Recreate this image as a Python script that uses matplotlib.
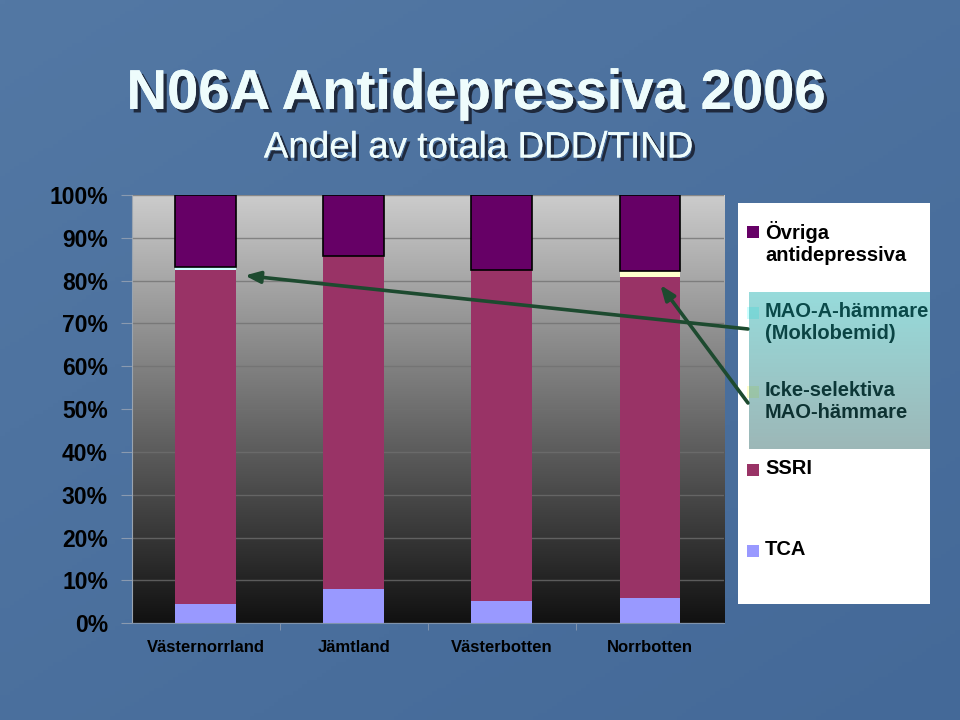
import numpy as np
import matplotlib
matplotlib.use("Agg")
import matplotlib.pyplot as plt
from matplotlib.colors import LinearSegmentedColormap
from matplotlib.patches import Rectangle, ConnectionPatch
import matplotlib.patheffects as pe

plt.rcParams["font.family"] = ["Liberation Sans", "DejaVu Sans"]

# ---------------- data ----------------
categories = ["Västernorrland", "Jämtland", "Västerbotten", "Norrbotten"]
series_names = ["TCA", "SSRI", "Icke-selektiva\nMAO-hämmare",
                "MAO-A-hämmare\n(Moklobemid)", "Övriga\nantidepressiva"]
tca = [4.6, 7.9, 5.1, 5.8]
ssri = [78.0, 77.9, 77.4, 75.0]
icke_selektiva = [0.0, 0.0, 0.0, 1.4]
mao_a = [0.5, 0.0, 0.0, 0.0]
ovriga = [16.9, 14.2, 17.5, 17.8]
series_values = [tca, ssri, icke_selektiva, mao_a, ovriga]
series_colors = ["#9999FF", "#993366", "#FFFFCC", "#CCFFFF", "#660066"]
series_edges = ["none", "none", "none", "none", "black"]
yticks = [0, 10, 20, 30, 40, 50, 60, 70, 80, 90, 100]
ytick_labels = [f"{v}%" for v in yticks]

W, H = 960, 720
fig = plt.figure(figsize=(W / 100, H / 100), dpi=100)

def fx(px):
    return px / W

def fy(py):
    return 1 - py / H

# ---------------- blue background ----------------
bg = fig.add_axes([0, 0, 1, 1], zorder=-10)
gy, gx = np.mgrid[0:1:200j, 0:1:200j]
t = 0.55 * gy + 0.45 * gx
c0 = np.array([0x53, 0x78, 0xA4]) / 255
c1 = np.array([0x44, 0x69, 0x98]) / 255
img = c0[None, None, :] * (1 - t[..., None]) + c1[None, None, :] * t[..., None]
bg.imshow(img, extent=[0, 1, 0, 1], aspect="auto", origin="upper")
bg.set_axis_off()

# ---------------- main axes ----------------
L, R, T, B = 131.5, 724, 195, 623.3
ax = fig.add_axes([fx(L), fy(B), fx(R - L), (B - T) / H], zorder=1)
x = np.arange(len(categories))
ax.set_xlim(-0.5, len(categories) - 0.5)
ax.set_ylim(0, 100)

grad_cmap = LinearSegmentedColormap.from_list("g", ["#111111", "#cccccc"])
ax.imshow(np.linspace(0, 1, 256)[:, None], cmap=grad_cmap, origin="lower",
          extent=[-0.5, len(categories) - 0.5, 0, 100], aspect="auto", zorder=0)

ax.set_yticks(yticks)
ax.set_yticklabels(ytick_labels)
ax.yaxis.grid(True, color="#707070", lw=1.0, alpha=0.75, zorder=0.5)
ax.set_axisbelow(True)

bottom = np.zeros(len(categories))
for vals, col, ec in zip(series_values, series_colors, series_edges):
    vals = np.array(vals)
    ax.bar(x, vals, width=0.41, bottom=bottom, color=col, edgecolor=ec,
           linewidth=1.2 if ec != "none" else 0, zorder=2)
    bottom += vals

ax.set_xticks(x)
ax.set_xticklabels(categories)
ax.set_xticks(np.arange(0.5, len(categories) - 0.5, 1), minor=True)
ax.tick_params(axis="x", which="major", length=0, pad=12, labelsize=12)
ax.tick_params(axis="x", which="minor", length=5, color="#8a9ab0")
ax.tick_params(axis="y", length=8, color="#8a9ab0", pad=9, labelsize=16.5)
for lab in ax.get_xticklabels() + ax.get_yticklabels():
    lab.set_fontweight("bold")
    lab.set_color("black")
for s in ["top", "right"]:
    ax.spines[s].set_visible(False)
ax.spines["left"].set_color("#9aa4b0")
ax.spines["bottom"].set_color("#7f93ad")

# ---------------- titles ----------------
shadow = [pe.withSimplePatchShadow(offset=(2.5, -2.5), shadow_rgbFace="#1a2233", alpha=0.9), pe.Normal()]
fig.text(fx(476), fy(95), "N06A Antidepressiva 2006", ha="center", va="center",
         fontsize=40.5, fontweight="bold", color="#eefcfc", path_effects=shadow)
fig.text(fx(478), fy(148), "Andel av totala DDD/TIND", ha="center", va="center",
         fontsize=26.5, color="#eefcfc", path_effects=shadow)

# ---------------- legend ----------------
fig.patches.append(Rectangle((fx(738), fy(604)), fx(192), (604 - 203) / H,
                             transform=fig.transFigure, facecolor="white",
                             edgecolor="none", zorder=2))
legend_rows_y = [551, 470, 392, 313, 232]  # same order as series
for name, col, ry in zip(series_names, series_colors, legend_rows_y):
    fig.patches.append(Rectangle((fx(747), fy(ry + 6)), fx(12), 12 / H,
                                 transform=fig.transFigure, facecolor=col,
                                 edgecolor="none", zorder=3))
    fig.text(fx(765), fy(ry - 11), name, ha="left", va="top", fontsize=14.5,
             fontweight="bold", color="black", linespacing=1.18, zorder=3)

# translucent overlay box
ov = fig.add_axes([fx(749), fy(449), fx(930 - 749), (449 - 292) / H], zorder=6)
top_c = np.array([22, 175, 175]) / 255
bot_c = np.array([35, 95, 95]) / 255
tt = np.linspace(0, 1, 100)[:, None]
ov_img = top_c[None, :] * (1 - tt) + bot_c[None, :] * tt
ov.imshow(ov_img[:, None, :], aspect="auto", alpha=0.45, extent=[0, 1, 0, 1])
ov.set_axis_off()

# ---------------- arrows ----------------
arrow_kw = dict(coordsA="figure pixels", coordsB="data", axesB=ax,
                arrowstyle="-|>,head_length=0.9,head_width=0.35",
                color="#1d4a2f", lw=2.6, zorder=5, shrinkA=0, shrinkB=0)
a1 = ConnectionPatch(xyA=(748, H - 329), xyB=(0.265, 81.2), **arrow_kw)
a2 = ConnectionPatch(xyA=(748, H - 403), xyB=(3.07, 79.0), **arrow_kw)
fig.add_artist(a1)
fig.add_artist(a2)

fig.savefig("out.png", dpi=100)
